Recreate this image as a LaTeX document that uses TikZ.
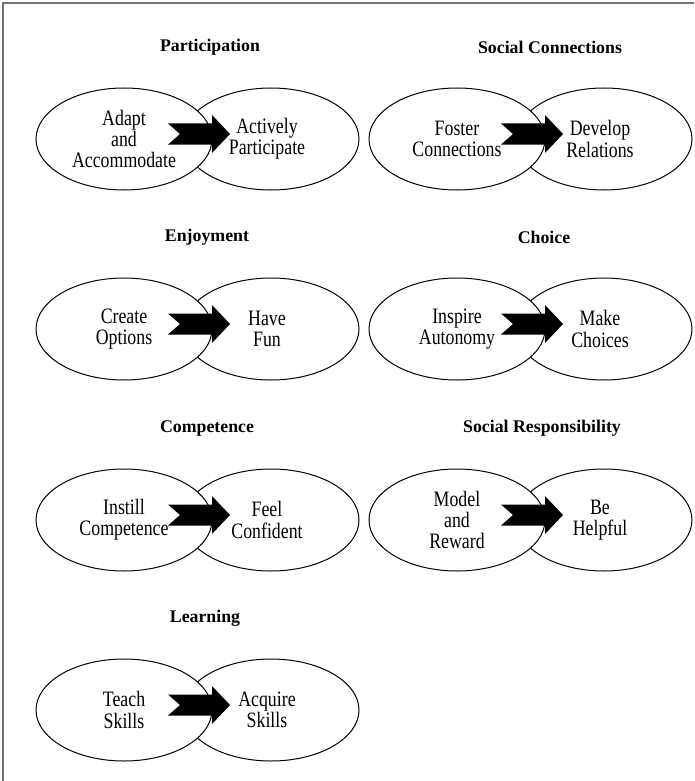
\documentclass[tikz,border=0pt]{standalone}
\usepackage{fontspec}
\setmainfont{Liberation Serif}
\newfontfamily\condserif[FakeStretch=0.81]{Liberation Serif}
\usetikzlibrary{shapes.geometric}
\newcommand\mkpair[7]{%
  \node[oval] (#1R) at (#2+147,#3) {};
  \node[oval] (#1L) at (#2,#3) {};
  \fill[black] (#2+44,#3-15.5) -- (#2+88,#3-15.5) -- (#2+88,#3-24) -- (#2+106,#3-5)
     -- (#2+88,#3+14) -- (#2+88,#3+5.5) -- (#2+44,#3+5.5) -- (#2+56,#3-5) -- cycle;
  \node[ttl] (#1T) at (#5,#3-92) {#4};
  \node[lbl] (#1a) at (#2,#3) {#6};
  \node[lbl] (#1b) at (#2+143,#3) {#7};
}
\begin{document}
\begin{tikzpicture}[x=1pt,y=-1pt,
  oval/.style={draw,fill=white,ellipse,minimum width=176pt,minimum height=102pt,inner sep=0pt,line width=1pt},
  ttl/.style={font=\bfseries\fontsize{17.8}{20.5}\selectfont,inner sep=0pt},
  lbl/.style={align=center,font=\condserif\fontsize{22}{21.2}\selectfont,inner sep=0pt}]
\useasboundingbox (0,0) rectangle (694,781);
\draw[black!55,line width=2pt] (3,781) -- (3,3) -- (694,3);
\mkpair{p}{124}{139}{Participation}{210}{Adapt\\and\\Accommodate}{Actively\\Participate}
\mkpair{s}{457}{139}{Social Connections}{550}{Foster\\Connections}{Develop\\Relations}
\mkpair{e}{124}{329}{Enjoyment}{207}{Create\\Options}{Have\\Fun}
\mkpair{c}{457}{329}{Choice}{544}{Inspire\\Autonomy}{Make\\Choices}
\mkpair{m}{124}{520}{Competence}{207}{Instill\\Competence}{Feel\\Confident}
\mkpair{r}{457}{520}{Social Responsibility}{542}{Model\\and\\Reward}{Be\\Helpful}
\mkpair{l}{124}{710}{Learning}{205}{Teach\\Skills}{Acquire\\Skills}
\end{tikzpicture}
\end{document}
